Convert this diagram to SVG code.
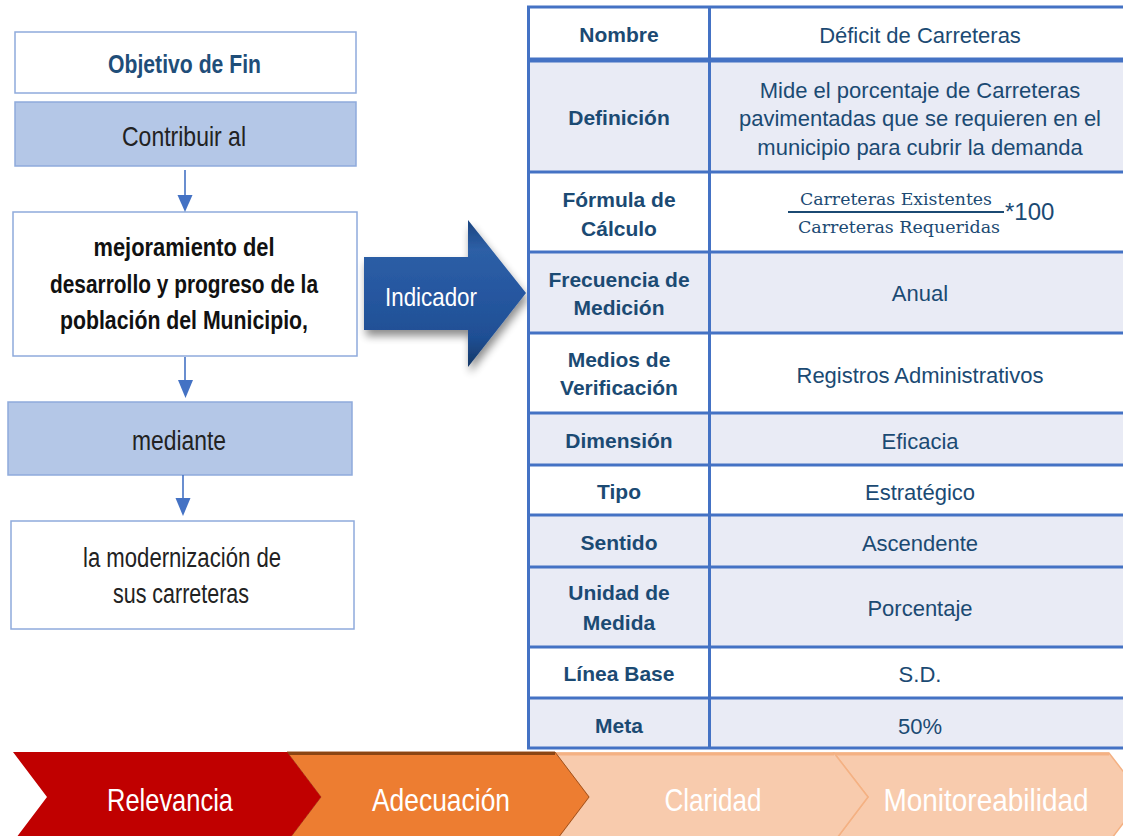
<svg xmlns="http://www.w3.org/2000/svg" width="1123" height="836" viewBox="0 0 1123 836">
<style>
.box{fill:#ffffff;stroke:#8FAADC;stroke-width:1.5}
.boxf{fill:#B4C7E7;stroke:#8FAADC;stroke-width:1.5}
.lt{font-family:"Liberation Sans",Arial,sans-serif;text-anchor:middle}
.lbl{font-family:"Liberation Sans",Arial,sans-serif;font-weight:bold;font-size:21px;fill:#1B4A73;text-anchor:middle}
.val{font-family:"Liberation Sans",Arial,sans-serif;font-size:22px;fill:#1B4A73;text-anchor:middle}
.grid{stroke:#4472C4;stroke-width:3;fill:none}
.rowl{fill:#E9EBF5}
.conn{stroke:#4472C4;stroke-width:1.6;fill:none}
.chev{font-family:"Liberation Sans",Arial,sans-serif;font-size:32px;fill:#ffffff;text-anchor:middle}
</style>
<defs>
<linearGradient id="ag" x1="0" y1="0" x2="0" y2="1">
<stop offset="0" stop-color="#1B4580"/>
<stop offset="0.2" stop-color="#2D5FA6"/>
<stop offset="0.5" stop-color="#2657A0"/>
<stop offset="0.8" stop-color="#1F4F94"/>
<stop offset="1" stop-color="#153766"/>
</linearGradient>
<filter id="sh" x="-20%" y="-20%" width="150%" height="150%">
<feGaussianBlur in="SourceAlpha" stdDeviation="4"/>
<feOffset dx="2" dy="6" result="b"/>
<feComponentTransfer><feFuncA type="linear" slope="0.45"/></feComponentTransfer>
<feMerge><feMergeNode/><feMergeNode in="SourceGraphic"/></feMerge>
</filter>
</defs>
<rect width="1123" height="836" fill="#ffffff"/>

<g id="objetivo">
<rect class="box" x="15" y="32" width="341" height="61"/>
<text class="lt" x="184.5" y="73" font-size="26" font-weight="bold" fill="#1F4E79" textLength="153" lengthAdjust="spacingAndGlyphs">Objetivo de Fin</text>
</g>
<g id="contribuir">
<rect class="boxf" x="15" y="102" width="341" height="64"/>
<text class="lt" x="184" y="146" font-size="28" fill="#222222" textLength="124" lengthAdjust="spacingAndGlyphs">Contribuir al</text>
</g>
<g id="mejoramiento">
<rect class="box" x="13" y="212" width="344" height="144"/>
<text class="lt" x="184" y="256" font-size="26" font-weight="bold" fill="#111111" textLength="181" lengthAdjust="spacingAndGlyphs">mejoramiento del</text>
<text class="lt" x="184" y="293" font-size="26" font-weight="bold" fill="#111111" textLength="268" lengthAdjust="spacingAndGlyphs">desarrollo y progreso de la</text>
<text class="lt" x="184" y="329" font-size="26" font-weight="bold" fill="#111111" textLength="248" lengthAdjust="spacingAndGlyphs">población del Municipio,</text>
</g>
<g id="mediante">
<rect class="boxf" x="8" y="402" width="344" height="73"/>
<text class="lt" x="179" y="450" font-size="27" fill="#222222" textLength="94" lengthAdjust="spacingAndGlyphs">mediante</text>
</g>
<g id="modernizacion">
<rect class="box" x="11" y="521" width="343" height="108"/>
<text class="lt" x="182" y="567" font-size="27" fill="#222222" textLength="198" lengthAdjust="spacingAndGlyphs">la modernización de</text>
<text class="lt" x="181" y="603" font-size="27" fill="#222222" textLength="136" lengthAdjust="spacingAndGlyphs">sus carreteras</text>
</g>

<g id="connectors">
<line class="conn" x1="185" y1="170" x2="185" y2="196"/>
<path d="M177.5,195 L192.5,195 L185,212 z" fill="#4472C4"/>
<line class="conn" x1="185" y1="357" x2="185" y2="381"/>
<path d="M178,380 L193,380 L185.5,398 z" fill="#4472C4"/>
<line class="conn" x1="183" y1="475" x2="183" y2="499"/>
<path d="M175.5,498 L190.5,498 L183,516 z" fill="#4472C4"/>
</g>

<g id="indicador">
<polygon points="364,257 468,257 468,220 526,293 468,367 468,330 364,330" fill="url(#ag)" filter="url(#sh)"/>
<text class="lt" x="431" y="306" font-size="26" fill="#ffffff" textLength="92" lengthAdjust="spacingAndGlyphs">Indicador</text>
</g>

<g id="tabla">
<rect x="528" y="7" width="600" height="741" fill="#ffffff"/>
<rect class="rowl" x="528" y="60" width="600" height="112"/>
<rect class="rowl" x="528" y="252" width="600" height="81"/>
<rect class="rowl" x="528" y="413" width="600" height="52"/>
<rect class="rowl" x="528" y="515" width="600" height="132"/>
<rect class="rowl" x="528" y="698" width="600" height="50"/>
<g class="grid">
<line x1="527" y1="7" x2="1123" y2="7"/>
<line x1="527" y1="60" x2="1123" y2="60" stroke-width="5"/>
<line x1="527" y1="172" x2="1123" y2="172"/>
<line x1="527" y1="252" x2="1123" y2="252"/>
<line x1="527" y1="333" x2="1123" y2="333"/>
<line x1="527" y1="413" x2="1123" y2="413"/>
<line x1="527" y1="465" x2="1123" y2="465"/>
<line x1="527" y1="515" x2="1123" y2="515"/>
<line x1="527" y1="567" x2="1123" y2="567"/>
<line x1="527" y1="647" x2="1123" y2="647"/>
<line x1="527" y1="698" x2="1123" y2="698"/>
<line x1="527" y1="748" x2="1123" y2="748"/>
<line x1="528.5" y1="6" x2="528.5" y2="749"/>
<line x1="709.5" y1="6" x2="709.5" y2="749"/>
</g>
</g>
<g id="row-nombre">
<text class="lbl" x="619" y="42">Nombre</text>
<text class="val" x="920" y="42.5">Déficit de Carreteras</text>
</g>
<g id="row-definicion">
<text class="lbl" x="619" y="125">Definición</text>
<text class="val" x="920" y="97.5">Mide el porcentaje de Carreteras</text>
<text class="val" x="920" y="125.5">pavimentadas que se requieren en el</text>
<text class="val" x="920" y="154.5">municipio para cubrir la demanda</text>
</g>
<g id="row-formula">
<text class="lbl" x="619" y="207">Fórmula de</text>
<text class="lbl" x="619" y="236">Cálculo</text>
<text x="896" y="205" font-family="'DejaVu Serif','Liberation Serif',serif" font-size="16" fill="#1B4A73" text-anchor="middle" textLength="192" lengthAdjust="spacingAndGlyphs">Carreteras Existentes</text>
<line x1="788" y1="212" x2="1004" y2="212" stroke="#1B4A73" stroke-width="2"/>
<text x="899" y="233" font-family="'DejaVu Serif','Liberation Serif',serif" font-size="16" fill="#1B4A73" text-anchor="middle" textLength="202" lengthAdjust="spacingAndGlyphs">Carreteras Requeridas</text>
<text x="1005" y="220" font-family="'Liberation Sans',Arial,sans-serif" font-size="24" fill="#1B4A73">*100</text>
</g>
<g id="row-frecuencia">
<text class="lbl" x="619" y="287">Frecuencia de</text>
<text class="lbl" x="619" y="315">Medición</text>
<text class="val" x="920" y="300.5">Anual</text>
</g>
<g id="row-medios">
<text class="lbl" x="619" y="367">Medios de</text>
<text class="lbl" x="619" y="395">Verificación</text>
<text class="val" x="920" y="382.5">Registros Administrativos</text>
</g>
<g id="row-dimension">
<text class="lbl" x="619" y="448">Dimensión</text>
<text class="val" x="920" y="448.5">Eficacia</text>
</g>
<g id="row-tipo">
<text class="lbl" x="619" y="499">Tipo</text>
<text class="val" x="920" y="499.5">Estratégico</text>
</g>
<g id="row-sentido">
<text class="lbl" x="619" y="550">Sentido</text>
<text class="val" x="920" y="550.5">Ascendente</text>
</g>
<g id="row-unidad">
<text class="lbl" x="619" y="600">Unidad de</text>
<text class="lbl" x="619" y="630">Medida</text>
<text class="val" x="920" y="615.5">Porcentaje</text>
</g>
<g id="row-linea">
<text class="lbl" x="619" y="681">Línea Base</text>
<text class="val" x="920" y="681.5">S.D.</text>
</g>
<g id="row-meta">
<text class="lbl" x="619" y="733">Meta</text>
<text class="val" x="920" y="733.5">50%</text>
</g>

<g id="chev-monitoreabilidad">
<polygon points="834,753 1109,753 1143,797 1109,842 834,842 868,797" fill="#F8CBAD" stroke="#F4B183" stroke-width="1.5"/>
<line x1="834" y1="754" x2="1109" y2="754" stroke="#F4B183" stroke-width="3"/>
<text class="chev" x="986" y="811" textLength="205" lengthAdjust="spacingAndGlyphs">Monitoreabilidad</text>
</g>
<g id="chev-claridad">
<polygon points="555,753 834,753 868,797 834,842 555,842 589,797" fill="#F8CBAD" stroke="#F4B183" stroke-width="1.5"/>
<line x1="555" y1="754" x2="834" y2="754" stroke="#F4B183" stroke-width="3"/>
<text class="chev" x="713" y="811" textLength="97" lengthAdjust="spacingAndGlyphs">Claridad</text>
</g>
<g id="chev-adecuacion">
<polygon points="287,752 555,752 589,797 555,842 287,842 321,797" fill="#ED7D31" stroke="#A0521E" stroke-width="1"/>
<line x1="287" y1="753.5" x2="555" y2="753.5" stroke="#8B4513" stroke-width="3"/>
<text class="chev" x="441" y="811" textLength="138" lengthAdjust="spacingAndGlyphs">Adecuación</text>
</g>
<g id="chev-relevancia">
<polygon points="13,752 287,752 321,797 287,842 13,842 47,797" fill="#C00000"/>
<text class="chev" x="170" y="811" textLength="126" lengthAdjust="spacingAndGlyphs">Relevancia</text>
</g>
</svg>
